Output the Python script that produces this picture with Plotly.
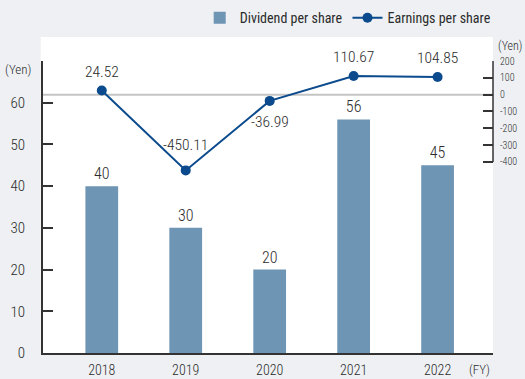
import plotly.graph_objects as go

# Fiscal years and per-share figures (Yen)
years = ["2018", "2019", "2020", "2021", "2022"]
dividend = [40, 30, 20, 56, 45]
eps = [24.52, -450.11, -36.99, 110.67, 104.85]

eps_ticks = [-400, -300, -200, -100, 0, 100, 200]
div_ticks = [0, 10, 20, 30, 40, 50, 60, 70]

BAR = "#6f95b4"
LINE = "#0b4a8c"
AXIS = "#333333"
TEXT = "#2b2b2b"
BG = "#eef0f3"
NARROW = "'Roboto Condensed', 'Liberation Sans Narrow', 'DejaVu Sans Condensed', 'Liberation Sans', sans-serif"


def narrow(size, weight=300):
    return dict(family=NARROW, size=size, color=TEXT, weight=weight)


fig = go.Figure()

fig.add_trace(go.Bar(
    x=years, y=dividend, name="Dividend per share",
    marker=dict(color=BAR, line=dict(width=0)),
    width=0.39,
    text=[str(v) for v in dividend], textposition="outside",
    textfont=narrow(16),
    cliponaxis=False,
))

fig.add_trace(go.Scatter(
    x=years, y=eps, name="Earnings per share", yaxis="y2",
    mode="lines+markers",
    line=dict(color=LINE, width=2),
    marker=dict(color=LINE, size=10),
    cliponaxis=False,
))

# EPS value labels: above the point, except where the line rises steeply
eps_shift = [19, 25, -21, 19, 19]
for i, (v, s) in enumerate(zip(eps, eps_shift)):
    fig.add_annotation(
        x=i, y=v, xref="x", yref="y2", text=f"{v:.2f}", showarrow=False,
        yshift=s, font=narrow(15.5),
    )

# white panel behind the plot, zero line of the EPS scale, EPS axis line
fig.add_shape(type="rect", xref="paper", yref="paper",
              x0=-0.005, x1=1.0, y0=-0.003, y1=1.082,
              fillcolor="white", line=dict(width=0), layer="below")
fig.add_shape(type="line", xref="paper", yref="y2",
              x0=0, x1=1, y0=0, y1=0,
              line=dict(color="#c4c4c4", width=2), layer="below")
fig.add_shape(type="line", xref="paper", yref="y2",
              x0=1, x1=1, y0=eps_ticks[0], y1=eps_ticks[-1],
              line=dict(color=AXIS, width=1.5))

# unit captions
fig.add_annotation(xref="paper", yref="paper", x=-0.022, y=0.97,
                   xanchor="right", yanchor="middle", text="(Yen)",
                   showarrow=False, font=narrow(13))
fig.add_annotation(xref="paper", yref="paper", x=1.006, y=1.052,
                   xanchor="left", yanchor="middle", text="(Yen)",
                   showarrow=False, font=narrow(12))
fig.add_annotation(xref="paper", yref="paper", x=0.97, y=-0.058,
                   xanchor="center", yanchor="middle", text="(FY)",
                   showarrow=False, font=narrow(13))

fig.update_layout(
    width=525, height=379,
    margin=dict(l=43, r=32, t=61, b=26, autoexpand=False),
    paper_bgcolor=BG, plot_bgcolor="white",
    showlegend=True,
    legend=dict(orientation="h", x=1.006, xanchor="right", y=1.147, yanchor="middle",
                font=narrow(14, 400),
                bgcolor="rgba(0,0,0,0)", traceorder="normal",
                itemwidth=30, tracegroupgap=0),
    xaxis=dict(
        type="category", range=[-0.7, 4.66],
        showline=True, linecolor=AXIS, linewidth=2, mirror=False,
        ticks="", showgrid=False, zeroline=False,
        tickfont=narrow(14),
        ticklabelstandoff=3,
    ),
    yaxis=dict(
        range=[0, 70], tickvals=div_ticks,
        ticktext=[str(v) if v < 70 else "" for v in div_ticks],
        showline=True, linecolor=AXIS, linewidth=2,
        ticks="inside", ticklen=10, tickwidth=1.5, tickcolor=AXIS,
        showgrid=False, zeroline=False,
        tickfont=narrow(15),
        ticklabelstandoff=13,
    ),
    yaxis2=dict(
        overlaying="y", side="right", range=[-1535, 200],
        tickvals=eps_ticks, ticktext=[str(v) for v in eps_ticks],
        showline=False, ticks="inside", ticklen=10, tickwidth=1.5, tickcolor=AXIS,
        showgrid=False, zeroline=False,
        tickfont=narrow(10),
        ticklabelstandoff=6,
    ),
)

fig.write_html("out.html")
